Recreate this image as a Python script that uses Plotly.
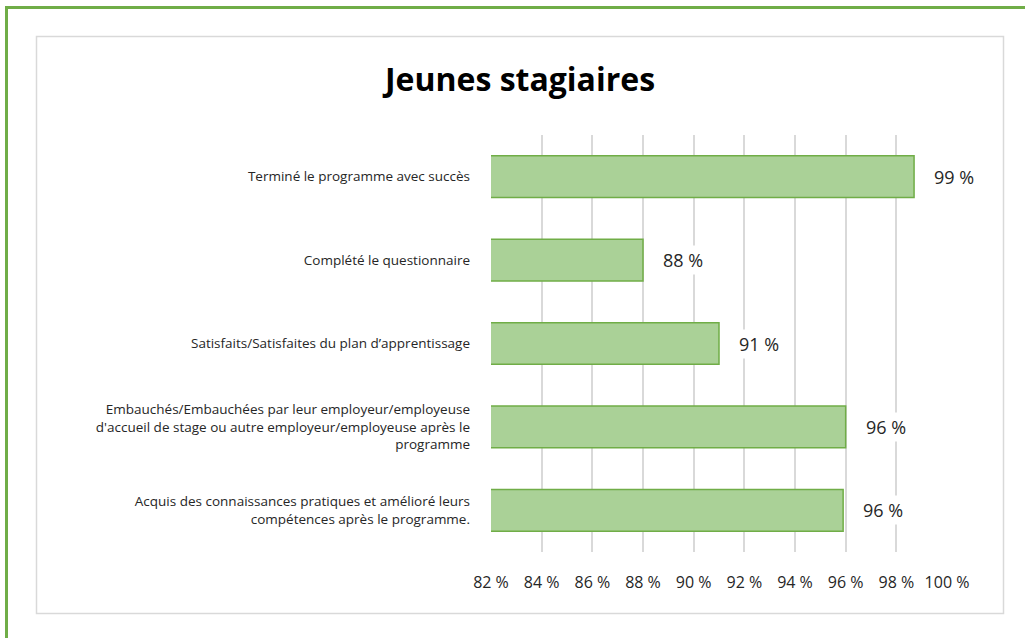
import plotly.graph_objects as go

categories = [
    "Terminé le programme avec succès",
    "Complété le questionnaire",
    "Satisfaits/Satisfaites du plan d’apprentissage",
    "Embauchés/Embauchées par leur employeur/employeuse<br>d'accueil de stage ou autre employeur/employeuse après le<br>programme",
    "Acquis des connaissances pratiques et amélioré leurs<br>compétences après le programme.",
]
values = [98.7, 88.0, 91.0, 96.0, 95.9]
tick_vals = [82, 84, 86, 88, 90, 92, 94, 96, 98, 100]
tick_text = [f"{v} %" for v in tick_vals]
title_text = "Jeunes stagiaires"

W, H = 1025, 638
L, R, T, B = 491, 78, 135, 86
PW, PH = W - L - R, H - T - B

def px(x):
    return (x - L) / PW

def py(y):
    return 1 - (y - T) / PH

fig = go.Figure()
fig.add_trace(go.Bar(
    x=values, y=categories, orientation="h",
    width=0.5,
    marker=dict(color="#aad197", line=dict(color="#70ad47", width=1.5)),
    hoverinfo="skip",
))

for v, c in zip(values, categories):
    fig.add_annotation(
        x=v, y=c, xref="x", yref="y", text=f"{round(v)} %",
        showarrow=False, xanchor="left", xshift=17,
        bgcolor="white", borderpad=2,
        font=dict(family="Open Sans", size=18, color="#262626"),
    )

shapes = [
    dict(type="rect", xref="paper", yref="paper",
         x0=px(36.5), x1=px(1003.5), y0=py(613.5), y1=py(36.5),
         line=dict(color="#d9d9d9", width=1.5), layer="below"),
    dict(type="rect", xref="paper", yref="paper",
         x0=px(6.5), x1=px(1040), y0=py(660), y1=py(7.5),
         line=dict(color="#70ad47", width=3), layer="below"),
]

fig.update_layout(
    width=W, height=H,
    margin=dict(l=L, r=R, t=T, b=B, pad=0),
    paper_bgcolor="white", plot_bgcolor="white",
    showlegend=False,
    shapes=shapes,
    title=dict(text=f"<b>{title_text}</b>", xref="container", yref="container",
               x=520 / W, y=1 - 80 / H, xanchor="center", yanchor="middle",
               font=dict(family="Open Sans", size=32, color="#000000")),
    font=dict(family="Open Sans", color="#404040"),
    bargap=0.5,
)
fig.update_xaxes(
    range=[82, 100], tickmode="array", tickvals=tick_vals, ticktext=tick_text,
    showgrid=True, gridcolor="#d9d9d9", gridwidth=1.5,
    zeroline=False, showline=False, ticks="",
    tickfont=dict(family="Open Sans", size=16, color="#262626"),
    ticklabelstandoff=19,
)
fig.update_yaxes(
    autorange="reversed", showgrid=False, showline=False, ticks="",
    tickfont=dict(family="Open Sans", size=13.5, color="#262626"),
    ticklabelstandoff=20,
)

fig.write_html(
    "out.html",
    config={"displayModeBar": False},
    post_script="document.body.style.margin='0';document.body.style.padding='0';",
)
